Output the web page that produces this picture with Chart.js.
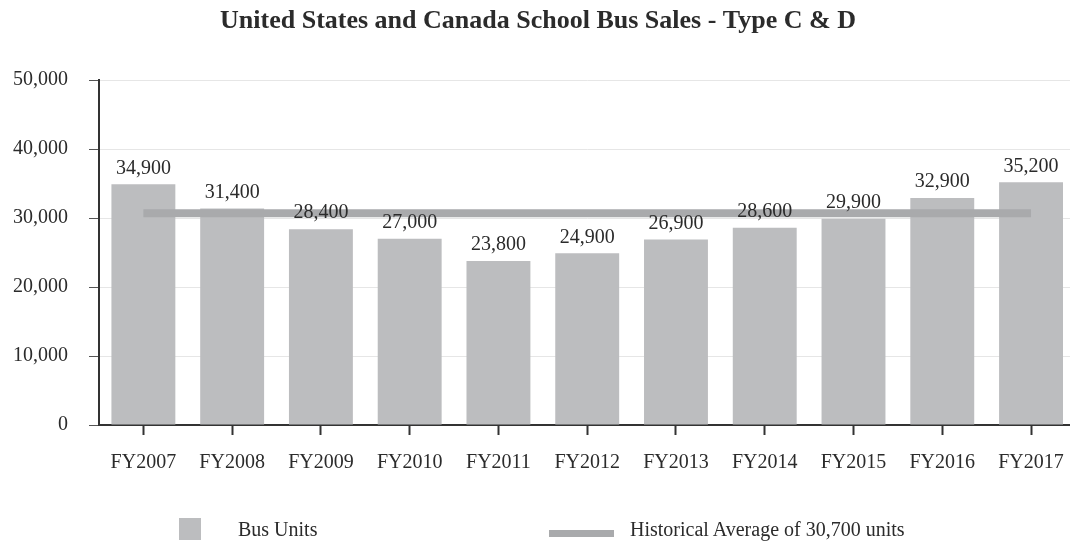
<!DOCTYPE html>
<html>
<head>
<meta charset="utf-8">
<script src="https://cdn.jsdelivr.net/npm/chart.js@4.4.1/dist/chart.umd.min.js"></script>
<style>
  html, body { margin: 0; padding: 0; background: #fff; overflow: hidden; }
  #wrap { position: absolute; left: 0; top: 0; width: 1080px; height: 541px; }
  .legend { position: absolute; font-family: "Liberation Serif", "Times New Roman", serif; font-size: 20px; color: #2b2b2b; }
  .swatch { position: absolute; background: #bcbdbf; }
</style>
</head>
<body>
<div id="wrap"><canvas id="busChart"></canvas></div>
<div class="swatch" style="left:179px; top:518px; width:22px; height:22px;"></div>
<div class="legend" style="left:238px; top:518px;">Bus Units</div>
<div class="swatch" style="left:549px; top:530px; width:65px; height:7px; background:#a9aaac;"></div>
<div class="legend" style="left:630px; top:518px;">Historical Average of 30,700 units</div>
<script>
const years = ['FY2007', 'FY2008', 'FY2009', 'FY2010', 'FY2011', 'FY2012', 'FY2013', 'FY2014', 'FY2015', 'FY2016', 'FY2017'];
const busUnits = [34900, 31400, 28400, 27000, 23800, 24900, 26900, 28600, 29900, 32900, 35200];
const historicalAverage = [30700, 30700, 30700, 30700, 30700, 30700, 30700, 30700, 30700, 30700, 30700];
const yTicks = [0, 10000, 20000, 30000, 40000, 50000];

const serif = '"Liberation Serif", "Times New Roman", serif';
const textColor = '#2b2b2b';

// value labels above each bar
const barLabels = {
  id: 'barLabels',
  afterDatasetsDraw(chart) {
    const ctx = chart.ctx;
    const meta = chart.getDatasetMeta(1);
    ctx.save();
    ctx.font = '20px ' + serif;
    ctx.fillStyle = textColor;
    ctx.textAlign = 'center';
    ctx.textBaseline = 'middle';
    meta.data.forEach((bar, i) => {
      ctx.fillText(busUnits[i].toLocaleString('en-US'), bar.x, bar.y - 16);
    });
    ctx.restore();
  }
};

const ctx = document.getElementById('busChart').getContext('2d');
new Chart(ctx, {
  type: 'bar',
  data: {
    labels: years,
    datasets: [
      { type: 'line', label: 'Historical Average of 30,700 units', data: historicalAverage, borderColor: '#a9aaac', borderWidth: 8, pointRadius: 0, borderCapStyle: 'butt', order: 0 },
      { label: 'Bus Units', data: busUnits, backgroundColor: '#bcbdbf', barPercentage: 0.72, categoryPercentage: 1, order: 1 }
    ]
  },
  options: {
    responsive: true,
    maintainAspectRatio: false,
    animation: false,
    layout: { padding: { left: 0, right: 4, top: 0, bottom: 0 } },
    plugins: {
      legend: { display: false },
      tooltip: { enabled: false },
      title: {
        display: true,
        text: 'United States and Canada School Bus Sales - Type C & D',
        color: textColor,
        font: { family: serif, size: 26, weight: 'bold' },
        padding: { top: 6, bottom: 43 }
      }
    },
    scales: {
      x: {
        grid: { display: true, drawOnChartArea: false, offset: false, tickLength: 10, tickColor: '#333', tickWidth: 2 },
        border: { color: '#333', width: 2 },
        ticks: { color: textColor, font: { family: serif, size: 20 }, padding: 16, maxRotation: 0 },
        afterFit(scale) { scale.height = 116; }
      },
      y: {
        min: 0,
        max: 50000,
        afterBuildTicks(scale) { scale.ticks = yTicks.map(v => ({ value: v })); },
        grid: { color: '#e6e6e6', lineWidth: 1, tickLength: 10, tickColor: '#555' },
        border: { color: '#333', width: 2 },
        ticks: {
          color: textColor,
          font: { family: serif, size: 20 },
          padding: 21,
          callback: v => v.toLocaleString('en-US')
        },
        afterFit(scale) { scale.width = 99; }
      }
    }
  },
  plugins: [barLabels]
});
</script>
</body>
</html>
